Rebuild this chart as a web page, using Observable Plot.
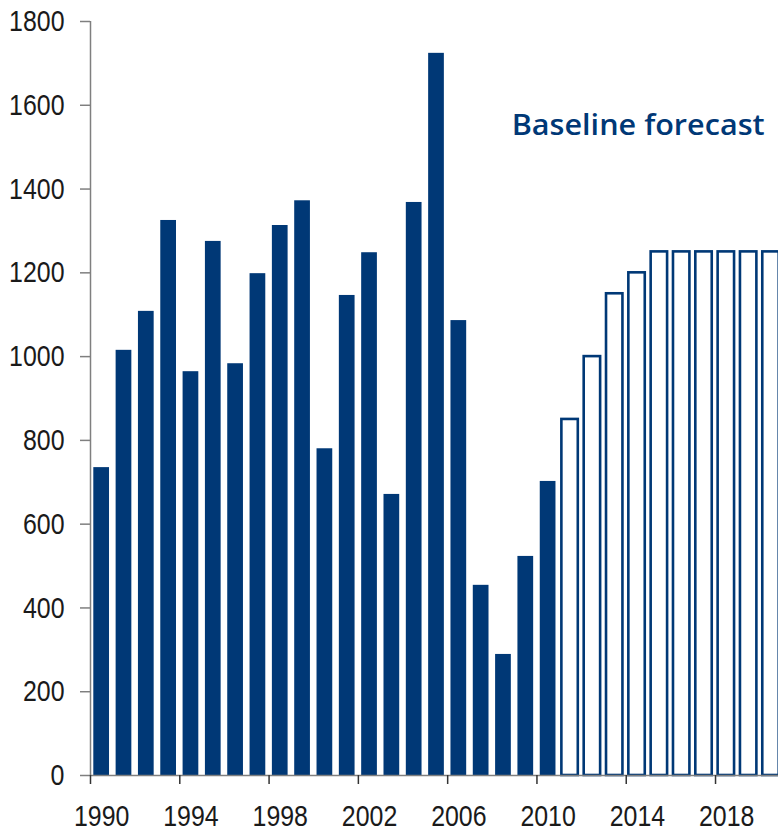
<!DOCTYPE html>
<html>
<head>
<meta charset="utf-8">
<script src="https://cdn.jsdelivr.net/npm/d3@7"></script>
<script src="https://cdn.jsdelivr.net/npm/@observablehq/plot@0.6"></script>
<style>
  body { margin: 0; background: #fff; }
  #chart svg { display: block; }
</style>
</head>
<body>
<div id="chart"></div>
<script>
// Actual values (filled bars)
const actualYears = [1990, 1991, 1992, 1993, 1994, 1995, 1996, 1997, 1998, 1999, 2000,
                     2001, 2002, 2003, 2004, 2005, 2006, 2007, 2008, 2009, 2010];
const actualValues = [735, 1015, 1108, 1325, 964, 1275, 983, 1198, 1313, 1372, 780,
                      1146, 1248, 671, 1368, 1724, 1086, 454, 289, 523, 702];
// Baseline forecast (outlined bars)
const forecastYears = [2011, 2012, 2013, 2014, 2015, 2016, 2017, 2018, 2019, 2020];
const forecastValues = [850, 1000, 1150, 1200, 1250, 1250, 1250, 1250, 1250, 1250];
// Tick labels
const yTicks = [0, 200, 400, 600, 800, 1000, 1200, 1400, 1600, 1800];
const xTicks = [1990, 1994, 1998, 2002, 2006, 2010, 2014, 2018];
const forecastLabel = "Baseline forecast";

const blue = "#003876";
const axisGray = "#7f7f7f";

const actual = actualYears.map((year, i) => ({year, value: actualValues[i]}));
const forecast = forecastYears.map((year, i) => ({year, value: forecastValues[i]}));

const chart = Plot.plot({
  width: 778,
  height: 832,
  marginTop: 21,
  marginBottom: 57,
  marginLeft: 90,
  marginRight: 0,
  x: {type: "linear", domain: [1990, 2021], range: [90, 782]},
  y: {domain: [0, 1800], range: [775, 21]},
  style: {
    fontFamily: "'Liberation Sans', Arial, sans-serif",
    fontSize: "30px",
    color: "#1a1a1a",
    background: "#fff"
  },
  marks: [
    Plot.rectY(actual, {
      x1: "year", x2: d => d.year + 1, y: "value",
      fill: blue, insetLeft: 3.3, insetRight: 3.3
    }),
    Plot.rectY(forecast, {
      x1: "year", x2: d => d.year + 1, y: "value",
      fill: "#fff", stroke: blue, strokeWidth: 2.6,
      insetLeft: 2.6, insetRight: 3.3
    }),
    Plot.ruleY([0], {stroke: axisGray, strokeWidth: 1.5}),
    Plot.ruleX([1990], {y1: 0, y2: 1800, stroke: axisGray, strokeWidth: 1.5}),
    Plot.axisY({
      ticks: yTicks, tickSize: 10, tickPadding: 16, label: null,
      stroke: axisGray, strokeWidth: 1.5, fill: "#1a1a1a", tickFormat: "d",
      className: "tick-labels"
    }),
    Plot.axisX({
      ticks: xTicks, tickSize: 9, label: null,
      stroke: "#333", strokeWidth: 1.5, tickFormat: () => ""
    }),
    Plot.axisX({
      ticks: xTicks, tickSize: 0, tickPadding: 29, dx: 11.16, label: null,
      fill: "#1a1a1a", tickFormat: "d",
      className: "tick-labels"
    }),
    Plot.text([forecastLabel], {
      x: 2020.2, y: 1528, text: d => d,
      textAnchor: "end", lineAnchor: "bottom",
      fontSize: 29, fontWeight: 600, fill: blue,
      fontFamily: "'Open Sans', 'Noto Sans', sans-serif",
      className: "forecast-label"
    })
  ]
});

document.getElementById("chart").append(chart);

// Condense tick-label glyphs to mimic the narrow face of the original
chart.querySelectorAll("text").forEach(t => {
  const g = t.closest("g");
  if (!g) return;
  const cls = g.getAttribute("class") || "";
  if (cls.includes("tick-labels")) {
    const len = t.getComputedTextLength();
    if (len > 0) {
      t.setAttribute("textLength", (len * 0.83).toFixed(1));
      t.setAttribute("lengthAdjust", "spacingAndGlyphs");
    }
  } else if (cls.includes("forecast-label")) {
    t.setAttribute("textLength", "253");
    t.setAttribute("lengthAdjust", "spacingAndGlyphs");
  }
});
</script>
</body>
</html>
